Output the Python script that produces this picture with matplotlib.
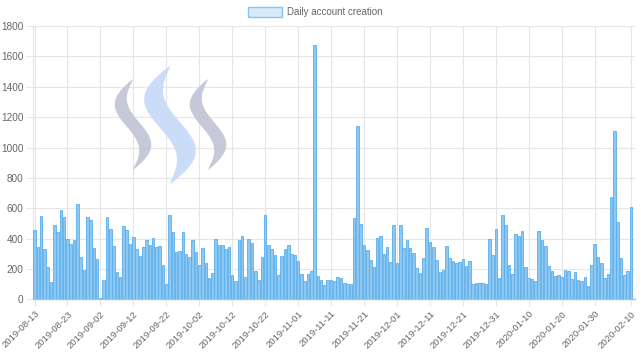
import numpy as np
import pandas as pd
import matplotlib
matplotlib.use("Agg")
import matplotlib.pyplot as plt
from matplotlib.patches import Polygon, Rectangle

# Daily account creation, 2019-08-13 .. 2020-02-10
start_date = "2019-08-13"
accounts = [
    460, 345, 548, 334, 217, 116, 487, 445, 588, 541,
    398, 367, 394, 628, 279, 195, 540, 520, 339, 266,
    12, 129, 544, 467, 352, 182, 149, 482, 460, 365,
    409, 330, 283, 345, 392, 361, 403, 348, 352, 230,
    103, 553, 447, 310, 319, 442, 301, 281, 392, 310,
    230, 339, 237, 140, 177, 398, 359, 359, 334, 348,
    160, 122, 390, 416, 151, 400, 374, 189, 131, 281,
    553, 359, 330, 290, 164, 286, 332, 359, 297, 290,
    255, 171, 122, 169, 187, 1675, 153, 127, 98, 129,
    129, 119, 146, 140, 107, 103, 103, 535, 1145, 500,
    356, 328, 261, 213, 403, 420, 301, 345, 250, 491,
    240, 493, 339, 392, 339, 306, 204, 173, 275, 471,
    380, 343, 261, 182, 197, 354, 275, 255, 240, 250,
    266, 222, 253, 105, 109, 111, 109, 105, 398, 293,
    467, 142, 557, 489, 230, 167, 432, 416, 453, 217,
    143, 134, 122, 453, 394, 354, 222, 187, 156, 162,
    149, 195, 187, 138, 182, 131, 124, 149, 91, 230,
    363, 281, 240, 142, 167, 677, 1110, 509, 270, 160,
    187, 610,
]
dates = pd.date_range(start_date, periods=len(accounts), freq="D")
tick_idx = list(range(0, 171, 10)) + [len(accounts) - 1]
y_ticks = list(range(0, 1801, 200))

grid_c = "#e6e6e6"
text_c = "#666666"

plt.rcParams["font.family"] = ["Liberation Sans", "DejaVu Sans"]

fig = plt.figure(figsize=(6.4, 3.61), dpi=100)
ax = fig.add_axes([0.0516, 0.1704, 0.9404, 0.7576])

x = np.arange(len(accounts))
ax.bar(x, accounts, width=0.78, color="#8cc8f2", edgecolor="#5aaeea",
       linewidth=0.6, zorder=3)

ax.set_xlim(-0.45, len(accounts) + 0.2)
ax.set_ylim(0, 1800)
ax.set_yticks(y_ticks)
ax.set_yticklabels([str(v) for v in y_ticks], fontsize=7.2, color=text_c)
ax.set_xticks(tick_idx)
ax.set_xticklabels([dates[i].strftime("%Y-%m-%d") for i in tick_idx],
                   rotation=45, ha="right", rotation_mode="anchor",
                   fontsize=6.8, color=text_c)
ax.tick_params(axis="both", length=5, color=grid_c, width=0.8, pad=2)
ax.grid(True, color=grid_c, linewidth=0.8, zorder=0)
for s in ["top", "right"]:
    ax.spines[s].set_visible(False)
ax.spines["left"].set_color(grid_c)
ax.spines["bottom"].set_color("#bdbdbd")
ax.spines["bottom"].set_linewidth(1.0)
ax.set_axisbelow(True)


# steem logo watermark (three S-shaped bands), in pixel coordinates
def s_band(xc, ytop, h, amp, wmax):
    t = np.linspace(0, 1, 60)
    cx = xc - amp * np.sin(2 * np.pi * t)
    cy = ytop + h * t
    w = wmax * np.sin(np.pi * t) ** 0.8
    left = np.column_stack([cx - w / 2, cy])
    right = np.column_stack([cx + w / 2, cy])[::-1]
    pts = np.vstack([left, right])
    pts[:, 1] = 361 - pts[:, 1]
    return pts


for xc, ytop, h, amp, wmax, col in [
    (133, 79, 91, 12, 16, "#c3c6d6"),
    (170, 66, 118, 16, 25, "#c9dbf8"),
    (208, 79, 91, 12, 16, "#c3c6d6"),
]:
    fig.patches.append(Polygon(s_band(xc, ytop, h, amp, wmax), closed=True,
                               transform=None, facecolor=col,
                               edgecolor="none", zorder=1, alpha=0.95))

# legend, drawn the Chart.js way at the top centre
fig.patches.append(Rectangle((248, 361 - 17), 34, 10, transform=None,
                             facecolor="#d6eafb", edgecolor="#86c5f1",
                             linewidth=1.0))
fig.text(287 / 640, 1 - 12 / 361, "Daily account creation", fontsize=7.0,
         color=text_c, va="center", ha="left")

fig.savefig("out.png", dpi=100)
